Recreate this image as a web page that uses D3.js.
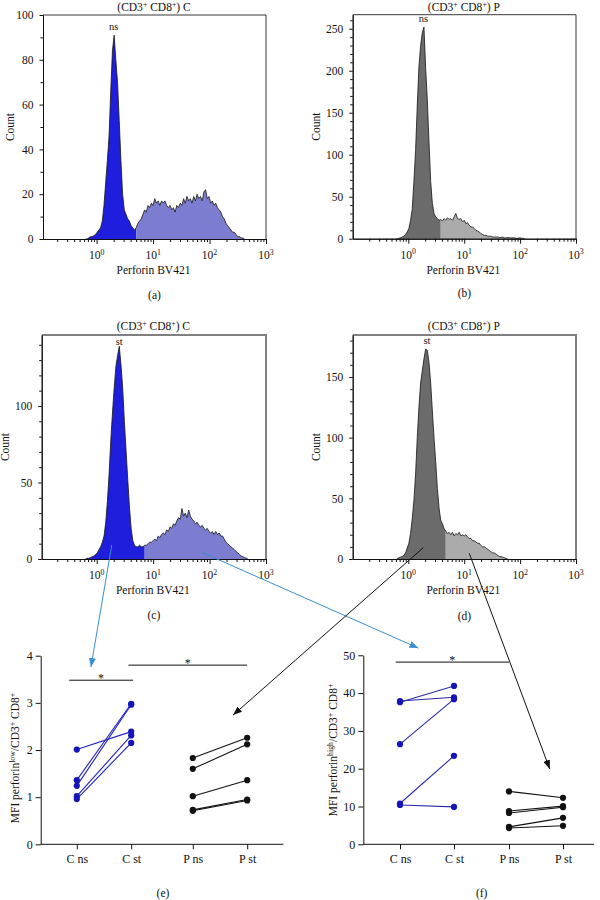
<!DOCTYPE html>
<html>
<head>
<meta charset="utf-8">
<script src="https://cdn.jsdelivr.net/npm/d3@7"></script>
<style>
  body { margin: 0; background: #fff; }
</style>
</head>
<body>
<svg id="fig" width="600" height="900"></svg>
<script>
// ---- histogram data: counts per log10 bin (first bin at 10^binStart, width binStep) ----
const binStart = -0.2;
const binStep = 0.03;

const countsA = [0,0,0.5,1,1,1.5,2,3,4,5,
  8,15,25,35,46,66,84,91,80,70,
  53,35,20,13,11,9,8,6,5,4,
  5,7,8,9,11,13,12,15,14,16,
  15,18,16,17,15,17,16,17,15,14,
  15,13,14,12,15,14,16,15,18,16,
  19,17,18,16,19,17,20,18,19,17,
  21,22,18,19,16,17,15,16,14,13,
  12,10,9,7,6,5,4,3,3,2,
  1,1,0.5,0.5,0];

const countsB = [0,0.5,1,2,3,5,8,12,22,35,
  68,105,158,205,230,245,252,203,165,115,
  68,42,30,26,24,22,23,21,24,22,
  25,23,24,22,26,30,24,23,24,20,
  22,18,19,16,14,14,12,10,9,8,
  6,5,4,4,3,3,3,2,2,2,
  2,1.5,1.5,2,1,1,1.5,1,1,1,
  1,0.5,0.5,1,0.5,0.5,0];

const countsC = [0,0.5,0.5,1,1.5,2,3,4,6,8,
  11,15,24,38,56,78,96,112,126,133,
  139,127,112,90,71,52,34,20,12,9,
  8,8,9,8,8,9,9,10,11,11,
  12,13,12,15,14,16,17,16,19,18,
  21,20,23,22,25,27,26,33,28,30,
  27,32,28,26,25,23,24,22,21,22,
  20,19,20,18,17,18,16,18,16,17,
  15,15,13,11,10,9,8,7,6,5,
  4,3,2,1.5,1,0.5,0];

const countsD = [0.5,1,1.5,2,3,5,9,13,21,33,
  48,70,100,125,145,155,165,173,172,162,
  145,122,100,80,58,42,32,29,25,23,
  21,22,20,22,19,21,20,22,19,20,
  19,20,18,17,17,15,15,14,13,13,
  11,10,10,9,8,7,6,5,5,4,
  3,2,2,1.5,1,0.5,0];

// gate between perforin-low and perforin-high
const splitA = 4.8, splitB = 3.8, splitC = 6.9, splitD = 4.5;
const decades = [1, 10, 100, 1000];

// ---- dot plot data (one value per subject) ----
const categories = ["C ns", "C st", "P ns", "P st"];
const groups = ["C", "P"];
const conditions = ["ns", "st"];

const lowCns = [2.01, 1.36, 1.24, 1.02, 0.96];
const lowCst = [2.39, 2.98, 2.96, 2.31, 2.15];
const lowPns = [1.83, 1.60, 1.02, 0.73, 0.71];
const lowPst = [2.26, 2.12, 1.36, 0.95, 0.93];

const highCns = [37.6, 37.9, 26.5, 10.8, 10.4];
const highCst = [41.9, 38.9, 38.4, 23.4, 9.9];
const highPns = [14.0, 8.8, 8.3, 4.6, 4.3];
const highPst = [12.3, 10.1, 9.8, 7.0, 4.9];

const FONT = "'Liberation Serif','DejaVu Serif',serif";
const svg = d3.select("#fig").attr("font-family", FONT);

// text with superscript pieces
function rich(text, parts, size) {
  let shift = 0;
  parts.forEach(p => {
    const s = p.sup ? -size * 0.38 : 0;
    text.append("tspan")
      .attr("dy", s - shift)
      .attr("font-size", p.sup ? size * 0.68 : size)
      .text(p.t);
    shift = s;
  });
  return text;
}

function styleAxis(g, size) {
  g.attr("font-family", FONT).attr("font-size", size);
  g.selectAll("text").attr("fill", "#111");
  g.selectAll("line, path").attr("stroke", "#111");
}

function drawHist(p) {
  const g = svg.append("g");
  const x = d3.scaleLog().domain([Math.pow(10, p.logMin), 1000]).range([p.left, p.right]);
  const y = d3.scaleLinear().domain([0, p.yMax]).range([p.bottom, p.top]);

  const bins = p.counts.map((n, i) => ({ v: Math.pow(10, binStart + i * binStep), n }));
  const cut = bins.findIndex(d => d.v >= p.split);
  const area = d3.area().x(d => x(d.v)).y0(y(0)).y1(d => y(d.n));

  g.append("path").datum(bins.slice(0, cut + 1)).attr("fill", p.lowColor).attr("d", area);
  g.append("path").datum(bins.slice(cut)).attr("fill", p.highColor).attr("d", area);
  g.append("path").datum(bins)
    .attr("fill", "none").attr("stroke", "#151515").attr("stroke-width", 0.8)
    .attr("d", d3.line().x(d => x(d.v)).y(d => y(d.n)));

  // top and right border
  g.append("path")
    .attr("d", `M${p.left},${p.top}H${p.right}V${p.bottom}`)
    .attr("fill", "none").attr("stroke", p.frame).attr("stroke-width", p.frameW);

  // x axis: minor and decade ticks
  const minorX = d3.range(-1, 3)
    .flatMap(e => d3.range(2, 10).map(k => k * Math.pow(10, e)))
    .filter(v => v > x.domain()[0]);
  g.append("g").attr("transform", `translate(0,${p.bottom})`)
    .call(d3.axisBottom(x).tickValues(minorX).tickSize(3).tickFormat("").tickSizeOuter(0))
    .call(a => styleAxis(a, 11.5));
  g.append("g").attr("transform", `translate(0,${p.bottom})`)
    .call(d3.axisBottom(x).tickValues(decades).tickSize(5).tickFormat("").tickSizeOuter(0))
    .call(a => styleAxis(a, 11.5));
  decades.forEach(d => {
    rich(g.append("text").attr("x", x(d)).attr("y", p.bottom + 20)
      .attr("text-anchor", "middle").attr("fill", "#111"),
      [{ t: "10" }, { t: String(Math.round(Math.log10(d))), sup: true }], 11.5);
  });

  // y axis
  const minorY = d3.range(0, p.yMax, 10).filter(v => !p.yMajor.includes(v));
  g.append("g").attr("transform", `translate(${p.left},0)`)
    .call(d3.axisLeft(y).tickValues(minorY).tickSize(2.5).tickFormat("").tickSizeOuter(0))
    .call(a => styleAxis(a, 11.5));
  g.append("g").attr("transform", `translate(${p.left},0)`)
    .call(d3.axisLeft(y).tickValues(p.yMajor).tickSize(3.5).tickPadding(6)
      .tickFormat(d3.format("d")).tickSizeOuter(0))
    .call(a => styleAxis(a, 11.5));

  // labels
  rich(g.append("text").attr("x", (p.left + p.right) / 2 - 0.5).attr("y", p.titleY)
    .attr("text-anchor", "middle").attr("fill", "#111"),
    [{ t: "(CD3" }, { t: "+", sup: true }, { t: " CD8" }, { t: "+", sup: true }, { t: ") " + p.group }], 11.5);
  g.append("text").attr("x", x(p.tagAt)).attr("y", p.tagY)
    .attr("text-anchor", "middle").attr("font-size", 10.5).attr("fill", "#111").text(p.tag);
  g.append("text").attr("transform", `translate(${p.countX},${(p.top + p.bottom) / 2}) rotate(-90)`)
    .attr("text-anchor", "middle").attr("font-size", 11.5).attr("fill", "#111").text("Count");
  g.append("text").attr("x", (p.left + p.right) / 2 - 1).attr("y", p.bottom + 35)
    .attr("text-anchor", "middle").attr("font-size", 11.5).attr("fill", "#111").text("Perforin BV421");
  g.append("text").attr("x", (p.left + p.right) / 2).attr("y", p.letterY)
    .attr("text-anchor", "middle").attr("font-size", 11.5).attr("fill", "#111").text(p.letter);

  return { x, y };
}

function drawDots(p) {
  const g = svg.append("g");
  const y = d3.scaleLinear().domain([0, p.yMax]).range([p.bottom, p.top]);
  const xg = d3.scalePoint().domain(groups).range(p.groupRange);
  const xi = d3.scalePoint().domain(conditions).range([-p.half, p.half]);
  const catX = categories.map(c => { const [a, b] = c.split(" "); return xg(a) + xi(b); });
  const xc = d3.scaleOrdinal().domain(categories).range(catX);
  const slot = d3.scaleLinear().domain(d3.range(categories.length)).range(catX);

  g.append("g").attr("transform", `translate(${p.left},0)`)
    .call(d3.axisLeft(y).tickValues(p.yTicks).tickSize(5).tickPadding(3)
      .tickFormat(d3.format("d")).tickSizeOuter(0))
    .call(a => styleAxis(a, 12));
  g.append("g").attr("transform", `translate(0,${p.bottom})`)
    .call(d3.axisBottom(xc).tickSize(5).tickPadding(5))
    .call(a => { a.select(".domain").remove(); styleAxis(a, 12); });
  g.append("line").attr("x1", p.left).attr("x2", p.right)
    .attr("y1", p.bottom).attr("y2", p.bottom).attr("stroke", "#111");

  // paired lines: C ns -> C st, P ns -> P st
  [[0, 1, p.blueLine], [2, 3, "#111"]].forEach(([a, b, col]) => {
    g.selectAll(null).data(p.series[a]).join("line")
      .attr("x1", slot(a)).attr("y1", d => y(d))
      .attr("x2", slot(b)).attr("y2", (d, i) => y(p.series[b][i]))
      .attr("stroke", col).attr("stroke-width", 1.1);
  });
  p.series.forEach((vals, k) => {
    g.selectAll(null).data(vals).join("circle")
      .attr("cx", slot(k)).attr("cy", d => y(d)).attr("r", 3.1)
      .attr("fill", k < 2 ? p.bluePoint : "#111");
  });

  // significance bars
  p.sig.forEach(s => {
    g.append("line").attr("x1", slot(s.from)).attr("x2", slot(s.to))
      .attr("y1", y(s.v)).attr("y2", y(s.v)).attr("stroke", "#111");
    g.append("text").attr("x", (slot(s.from) + slot(s.to)) / 2).attr("y", y(s.v) + 1.5)
      .attr("text-anchor", "middle").attr("font-size", 12).attr("fill", "#111").text("*");
  });

  rich(g.append("text").attr("transform", `translate(${p.labelX},${p.labelY}) rotate(-90)`)
    .attr("text-anchor", "middle").attr("fill", "#111"),
    [{ t: "MFI perforin" }, { t: p.level, sup: true }, { t: "/CD3" }, { t: "+", sup: true },
     { t: " CD8" }, { t: "+", sup: true }], 11.5);
  g.append("text").attr("x", p.letterX).attr("y", 897)
    .attr("text-anchor", "middle").attr("font-size", 11.5).attr("fill", "#111").text(p.letter);

  return { slot, y };
}

const blueLow = "#1e1edc", lavender = "#7c7cd0";
const grayLow = "#6b6b6b", grayHigh = "#ababab";

const panels = {};
panels.a = drawHist({ counts: countsA, split: splitA, left: 43, right: 266, top: 15, bottom: 239,
  logMin: -0.95, yMax: 100, yMajor: [0, 20, 40, 60, 80, 100], lowColor: blueLow, highColor: lavender,
  frame: "#222", frameW: 0.9, group: "C", titleY: 11, tag: "ns", tagAt: 2.0, tagY: 30,
  countX: 13.5, letter: "(a)", letterY: 299 });
panels.b = drawHist({ counts: countsB, split: splitB, left: 352.7, right: 576, top: 14.7, bottom: 238.7,
  logMin: -0.995, yMax: 266.7, yMajor: [0, 50, 100, 150, 200, 250], lowColor: grayLow, highColor: grayHigh,
  frame: "#222", frameW: 0.9, group: "P", titleY: 11, tag: "ns", tagAt: 1.86, tagY: 22,
  countX: 319.5, letter: "(b)", letterY: 297 });
panels.c = drawHist({ counts: countsC, split: splitC, left: 41.7, right: 266, top: 335, bottom: 559,
  logMin: -0.975, yMax: 146.4, yMajor: [0, 50, 100], lowColor: blueLow, highColor: lavender,
  frame: "#808080", frameW: 2, group: "C", titleY: 330, tag: "st", tagAt: 2.5, tagY: 345,
  countX: 8.5, letter: "(c)", letterY: 619 });
panels.d = drawHist({ counts: countsD, split: splitD, left: 352.7, right: 576, top: 335, bottom: 559,
  logMin: -0.995, yMax: 184.6, yMajor: [0, 50, 100, 150], lowColor: grayLow, highColor: grayHigh,
  frame: "#808080", frameW: 2, group: "P", titleY: 330, tag: "st", tagAt: 2.15, tagY: 344,
  countX: 319.5, letter: "(d)", letterY: 620 });

panels.e = drawDots({ series: [lowCns, lowCst, lowPns, lowPst], left: 40.7, right: 283.3,
  top: 655.7, bottom: 844.3, yMax: 4, yTicks: [0, 1, 2, 3, 4], groupRange: [104, 220], half: 27.2,
  blueLine: "#2222c0", bluePoint: "#1414b8", level: "low", labelX: 19, labelY: 758,
  sig: [{ from: -0.14, to: 1.03, v: 3.48 }, { from: 0.95, to: 3.0, v: 3.80 }],
  letter: "(e)", letterX: 163 });
panels.f = drawDots({ series: [highCns, highCst, highPns, highPst], left: 363.3, right: 594,
  top: 655.3, bottom: 844.3, yMax: 50, yTicks: [0, 10, 20, 30, 40, 50], groupRange: [427, 536], half: 27,
  blueLine: "#2a2aa8", bluePoint: "#1414b8", level: "high", labelX: 337, labelY: 750,
  sig: [{ from: -0.08, to: 2.0, v: 48.2 }],
  letter: "(f)", letterX: 481.7 });

// ---- arrows linking gates to the summary plots (data coordinates of each panel) ----
const arrows = [
  { from: ["c", 1.85, 9.2], to: ["e", 0.26, 3.76], color: "#3a8fd2" },
  { from: ["c", 72.6, 4.4], to: ["f", 0.34, 51.9], color: "#3a8fd2" },
  { from: ["d", 1.85, 9.3], to: ["e", 2.74, 2.74], color: "#111" },
  { from: ["d", 12.3, 4.7], to: ["f", 2.755, 19.9], color: "#111" }
];

const defs = svg.append("defs");
["#3a8fd2", "#111"].forEach((col, i) => {
  defs.append("marker").attr("id", "head" + i)
    .attr("markerUnits", "userSpaceOnUse").attr("markerWidth", 9).attr("markerHeight", 7)
    .attr("refX", 9).attr("refY", 3.5).attr("orient", "auto")
    .append("path").attr("d", "M0,0L9,3.5L0,7Z").attr("fill", col);
});

arrows.forEach(a => {
  const src = panels[a.from[0]], dst = panels[a.to[0]];
  svg.append("line")
    .attr("x1", src.x(a.from[1])).attr("y1", src.y(a.from[2]))
    .attr("x2", dst.slot(a.to[1])).attr("y2", dst.y(a.to[2]))
    .attr("stroke", a.color).attr("stroke-width", 1)
    .attr("marker-end", `url(#head${a.color === "#111" ? 1 : 0})`);
});
</script>
</body>
</html>
